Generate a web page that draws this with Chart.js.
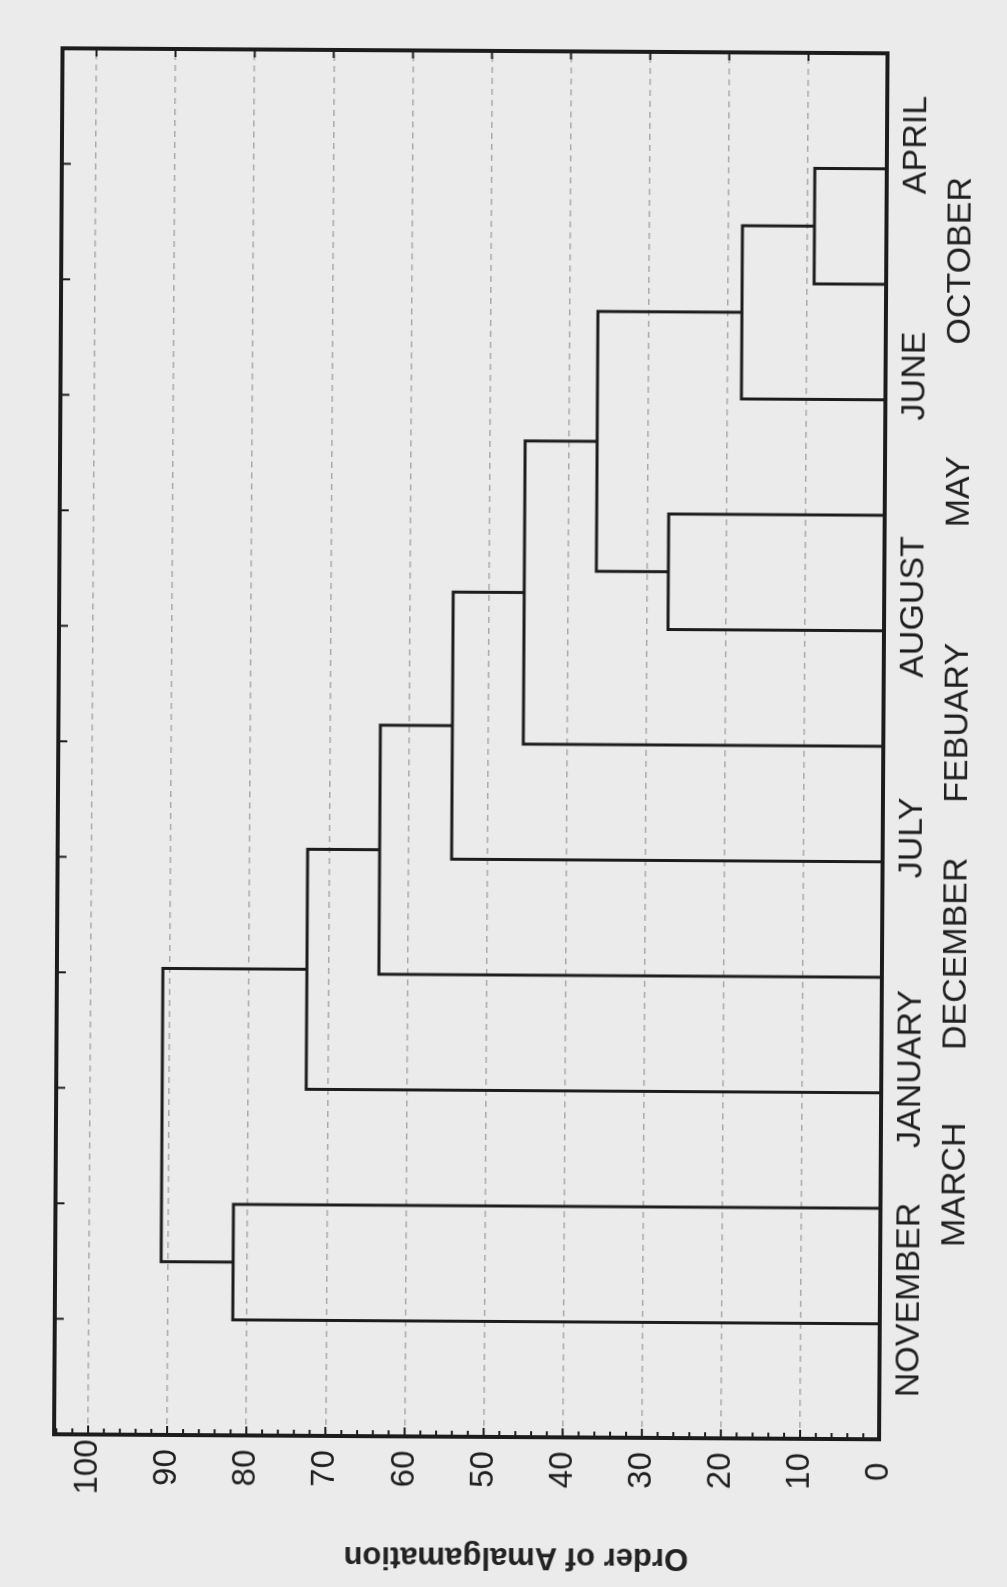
<!DOCTYPE html>
<html>
<head>
<meta charset="UTF-8">
<title>Order of Amalgamation</title>
<script src="https://cdn.jsdelivr.net/npm/chart.js"></script>
<style>
    html, body { margin: 0; padding: 0; background: #ebebeb; overflow: hidden; }
    #page { position: absolute; left: 0; top: 0; width: 1007px; height: 1587px; transform: rotate(0.35deg); }
    /* chart is drawn upright, then turned on its side like the scanned page */
    #chart-box { position: absolute; left: 0; top: 0; width: 1587px; height: 1007px;
                 transform-origin: 0 0; transform: translateY(1587px) rotate(-90deg); }
</style>
</head>
<body>
<div id="page"><div id="chart-box"><canvas id="chart1" width="1587" height="1007"></canvas></div></div>

<script>
    // leaves in the order they sit along the axis
    const months = ['NOVEMBER', 'MARCH', 'JANUARY', 'DECEMBER', 'JULY', 'FEBUARY', 'AUGUST', 'MAY', 'JUNE', 'OCTOBER', 'APRIL'];

    // joins: ids 0-10 are the months, every join adds a new id (11, 12, ...)
    const joinLeft  = [9, 8, 6, 13, 5, 4, 3, 2, 0, 19];
    const joinRight = [10, 11, 7, 12, 14, 15, 16, 17, 1, 18];
    const joinLevel = [9.1, 18.2, 27.3, 36.4, 45.5, 54.5, 63.6, 72.7, 81.8, 90.9];

    const valueTicks = [0, 10, 20, 30, 40, 50, 60, 70, 80, 90, 100];

    const lineColor = '#1c1c1c';
    const font = '"Liberation Sans", Arial, sans-serif';

    // build the U shaped links
    const nodeX = months.map((m, i) => i + 1);
    const nodeY = months.map(() => 0);
    const datasets = [];
    joinLeft.forEach((a, k) => {
        const b = joinRight[k];
        const h = joinLevel[k];
        datasets.push({
            data: [
                { x: nodeX[a], y: nodeY[a] },
                { x: nodeX[a], y: h },
                { x: nodeX[b], y: h },
                { x: nodeX[b], y: nodeY[b] }
            ],
            showLine: true,
            borderColor: lineColor,
            borderWidth: 3,
            pointRadius: 0,
            tension: 0,
            fill: false
        });
        nodeX.push((nodeX[a] + nodeX[b]) / 2);
        nodeY.push(h);
    });

    // frame, inward ticks and the axis title
    const framePlugin = {
        id: 'frame',
        afterDatasetsDraw(chart) {
            const { ctx, chartArea: a, scales: { x, y } } = chart;
            ctx.save();
            ctx.strokeStyle = lineColor;
            ctx.lineWidth = 2;
            ctx.beginPath();
            for (let v = 0; v <= 104; v += 2) {
                const py = y.getPixelForValue(v);
                const len = v % 10 === 0 ? 9 : 6;
                ctx.moveTo(a.left, py);
                ctx.lineTo(a.left + len, py);
            }
            valueTicks.forEach(v => {
                const py = y.getPixelForValue(v);
                ctx.moveTo(a.right, py);
                ctx.lineTo(a.right - 8, py);
            });
            months.forEach((m, i) => {
                const px = x.getPixelForValue(i + 1);
                ctx.moveTo(px, a.top);
                ctx.lineTo(px, a.top + 9);
            });
            ctx.stroke();
            ctx.lineWidth = 4;
            ctx.strokeRect(a.left, a.top, a.right - a.left, a.bottom - a.top);
            ctx.restore();
        },
        afterDraw(chart) {
            const { ctx, chartArea: a } = chart;
            ctx.save();
            ctx.translate(30, (a.top + a.bottom) / 2 + 50);
            ctx.rotate(-Math.PI / 2);
            ctx.fillStyle = '#222';
            ctx.font = 'bold 31px ' + font;
            ctx.textAlign = 'center';
            ctx.textBaseline = 'middle';
            ctx.fillText('Order of Amalgamation', 0, 0);
            ctx.restore();
        }
    };

    const ctx1 = document.getElementById('chart1').getContext('2d');
    const chart1 = new Chart(ctx1, {
        type: 'scatter',
        data: { datasets: datasets },
        options: {
            responsive: false,
            animation: false,
            layout: { padding: { left: 0, right: 51, top: 58, bottom: 0 } },
            plugins: { legend: { display: false }, tooltip: { enabled: false } },
            scales: {
                x: {
                    type: 'linear',
                    min: 0,
                    max: 12,
                    afterBuildTicks: s => { s.ticks = months.map((m, i) => ({ value: i + 1 })); },
                    afterFit: s => { s.height = 124; },
                    grid: { display: false, drawTicks: false },
                    border: { display: false },
                    ticks: {
                        autoSkip: false,
                        maxRotation: 0,
                        minRotation: 0,
                        padding: 8,
                        labelOffset: 24,
                        color: '#1f1f1f',
                        font: { family: font, size: 34, lineHeight: 1.3 },
                        callback: (value, index) => index % 2 === 0 ? months[index] : ['', months[index]]
                    }
                },
                y: {
                    type: 'linear',
                    min: 0,
                    max: 104.3,
                    afterBuildTicks: s => { s.ticks = valueTicks.map(v => ({ value: v })); },
                    afterFit: s => { s.width = 150; },
                    grid: { color: '#a9a9a9', lineWidth: 1.5, drawTicks: false },
                    border: { display: false, dash: [6, 5] },
                    ticks: {
                        crossAlign: 'center',
                        padding: 5,
                        color: '#1f1f1f',
                        font: { family: font, size: 33 }
                    }
                }
            }
        },
        plugins: [framePlugin]
    });
</script>
</body>
</html>
